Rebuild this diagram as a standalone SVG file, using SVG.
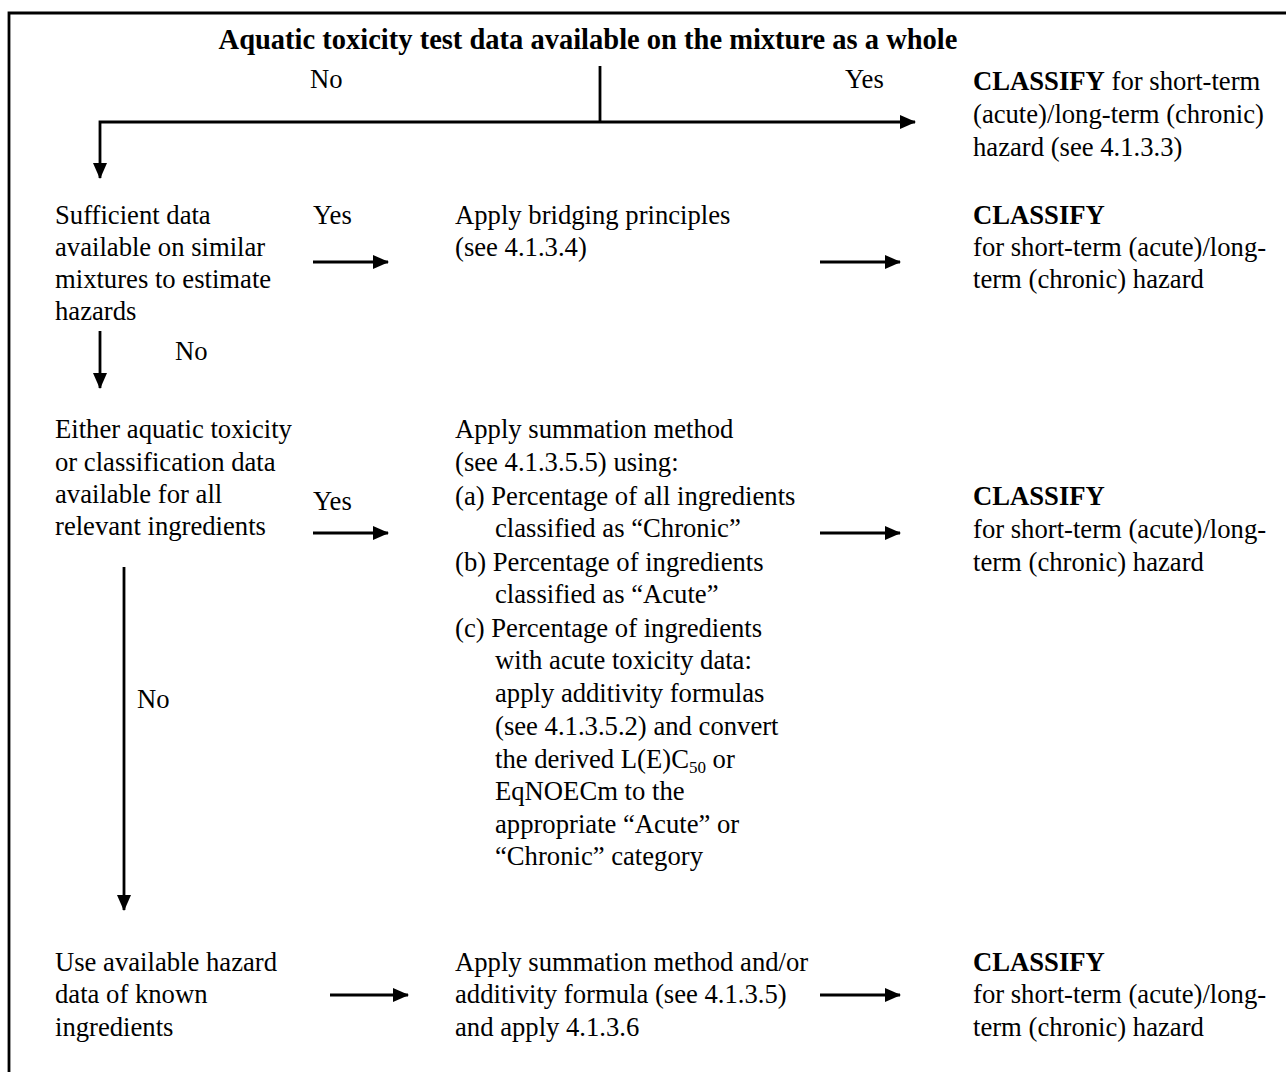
<svg xmlns="http://www.w3.org/2000/svg" width="1286" height="1072" viewBox="0 0 1286 1072">
<style>
text{font-family:"Liberation Serif","Times New Roman",serif;font-size:26.67px;fill:#000}
.b{font-weight:bold}
.t{font-size:28.5px}
.ln{stroke:#000;stroke-width:2.8;fill:none}
</style>
<defs>
<marker id="ah" markerWidth="16" markerHeight="14" refX="15" refY="7" orient="auto" markerUnits="userSpaceOnUse">
<path d="M0,0 L16,7 L0,14 Z" fill="#000"/>
</marker>
</defs>
<rect width="1286" height="1072" fill="#fff"/>
<path class="ln" d="M9,1072 V13 H1286"/>
<g id="start">
<text class="b t" x="588" y="49" text-anchor="middle">Aquatic toxicity test data available on the mixture as a whole</text>
</g>
<g id="classify-whole">
<text x="973" y="90"><tspan class="b">CLASSIFY</tspan> for short-term</text>
<text x="973" y="123">(acute)/long-term (chronic)</text>
<text x="973" y="156">hazard (see 4.1.3.3)</text>
</g>
<g id="similar">
<text x="55" y="224">Sufficient data</text>
<text x="55" y="256">available on similar</text>
<text x="55" y="288">mixtures to estimate</text>
<text x="55" y="320">hazards</text>
</g>
<g id="bridging">
<text x="455" y="224">Apply bridging principles</text>
<text x="455" y="256">(see 4.1.3.4)</text>
</g>
<g id="classify-bridging">
<text class="b" x="973" y="224">CLASSIFY</text>
<text x="973" y="256">for short-term (acute)/long-</text>
<text x="973" y="288">term (chronic) hazard</text>
</g>
<g id="all-ingredients">
<text x="55" y="438">Either aquatic toxicity</text>
<text x="55" y="471">or classification data</text>
<text x="55" y="503">available for all</text>
<text x="55" y="535">relevant ingredients</text>
</g>
<g id="summation">
<text x="455" y="438">Apply summation method</text>
<text x="455" y="471">(see 4.1.3.5.5) using:</text>
<text x="455" y="505">(a) Percentage of all ingredients</text>
<text x="495" y="537">classified as “Chronic”</text>
<text x="455" y="571">(b) Percentage of ingredients</text>
<text x="495" y="603">classified as “Acute”</text>
<text x="455" y="637">(c) Percentage of ingredients</text>
<text x="495" y="669">with acute toxicity data:</text>
<text x="495" y="702">apply additivity formulas</text>
<text x="495" y="735">(see 4.1.3.5.2) and convert</text>
<text x="495" y="768">the derived L(E)C<tspan font-size="17" dy="5">50</tspan><tspan dy="-5"> or</tspan></text>
<text x="495" y="800">EqNOECm to the</text>
<text x="495" y="833">appropriate “Acute” or</text>
<text x="495" y="865">“Chronic” category</text>
</g>
<g id="classify-summation">
<text class="b" x="973" y="505">CLASSIFY</text>
<text x="973" y="538">for short-term (acute)/long-</text>
<text x="973" y="571">term (chronic) hazard</text>
</g>
<g id="known">
<text x="55" y="971">Use available hazard</text>
<text x="55" y="1003">data of known</text>
<text x="55" y="1036">ingredients</text>
</g>
<g id="summation-additivity">
<text x="455" y="971">Apply summation method and/or</text>
<text x="455" y="1003">additivity formula (see 4.1.3.5)</text>
<text x="455" y="1036">and apply 4.1.3.6</text>
</g>
<g id="classify-known">
<text class="b" x="973" y="971">CLASSIFY</text>
<text x="973" y="1003">for short-term (acute)/long-</text>
<text x="973" y="1036">term (chronic) hazard</text>
</g>
<g id="connectors">
<path class="ln" d="M600,66 V122"/>
<path class="ln" d="M600,122 H100 V178" marker-end="url(#ah)"/>
<path class="ln" d="M600,122 H915" marker-end="url(#ah)"/>
<path class="ln" d="M313,262 H388" marker-end="url(#ah)"/>
<path class="ln" d="M820,262 H900" marker-end="url(#ah)"/>
<path class="ln" d="M100,331 V388" marker-end="url(#ah)"/>
<path class="ln" d="M313,533 H388" marker-end="url(#ah)"/>
<path class="ln" d="M820,533 H900" marker-end="url(#ah)"/>
<path class="ln" d="M124,567 V910" marker-end="url(#ah)"/>
<path class="ln" d="M330,995 H408" marker-end="url(#ah)"/>
<path class="ln" d="M820,995 H900" marker-end="url(#ah)"/>
</g>
<g id="labels">
<text x="310" y="88">No</text>
<text x="845" y="88">Yes</text>
<text x="313" y="224">Yes</text>
<text x="175" y="360">No</text>
<text x="313" y="510">Yes</text>
<text x="137" y="708">No</text>
</g>
</svg>
